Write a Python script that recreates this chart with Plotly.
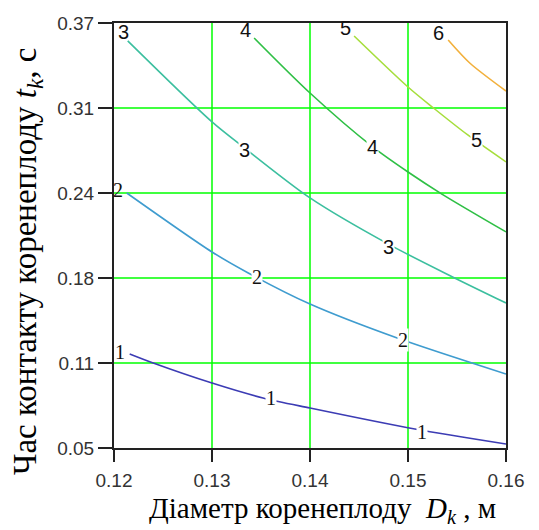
import plotly.graph_objects as go

# Contour levels, each as D (m) and t (s) points
levels = [1, 2, 3, 4, 5, 6]
level_colors = ["#3c3cb4", "#3f9ccf", "#3cbf9f", "#2fbf45", "#a6de3c", "#f2b03c"]

D1 = [0.1216, 0.1240, 0.1300, 0.1352, 0.1400, 0.1507, 0.1600]
t1 = [0.1208, 0.1140, 0.0989, 0.0877, 0.0801, 0.0643, 0.0530]
D2 = [0.1213, 0.1300, 0.1337, 0.1400, 0.1489, 0.1600]
t2 = [0.2420, 0.1976, 0.1818, 0.1584, 0.1328, 0.1057]
D3 = [0.1214, 0.1300, 0.1333, 0.1400, 0.1480, 0.1545, 0.1600]
t3 = [0.3565, 0.2955, 0.2760, 0.2383, 0.2035, 0.1790, 0.1592]
D4 = [0.1343, 0.1400, 0.1464, 0.1500, 0.1535, 0.1600]
t4 = [0.3587, 0.3173, 0.2767, 0.2578, 0.2410, 0.2127]
D5 = [0.1445, 0.1500, 0.1526, 0.1561, 0.1600]
t5 = [0.3602, 0.3218, 0.3060, 0.2857, 0.2654]
D6 = [0.1541, 0.1563, 0.1600]
t6 = [0.3572, 0.3399, 0.3188]

curves_D = [D1, D2, D3, D4, D5, D6]
curves_t = [t1, t2, t3, t4, t5, t6]

# Contour label positions
label_level = [1, 1, 1, 2, 2, 2, 3, 3, 3, 4, 4, 5, 5, 6]
label_D = [0.1206, 0.1360, 0.1514, 0.1204, 0.1346, 0.1495, 0.1210, 0.1333, 0.1480, 0.1334, 0.1464, 0.1436, 0.1570, 0.1531]
label_t = [0.1223, 0.0877, 0.0620, 0.2443, 0.1788, 0.1313, 0.3633, 0.2744, 0.2014, 0.3648, 0.2767, 0.3660, 0.2819, 0.3625]
label_mid = [False, True, True, False, True, True, False, True, True, False, True, False, True, False]

x_ticks = [0.12, 0.13, 0.14, 0.15, 0.16]
x_ticktext = ["0.12", "0.13", "0.14", "0.15", "0.16"]
y_ticks = [0.05, 0.114, 0.178, 0.242, 0.306, 0.37]
y_ticktext = ["0.05", "0.11", "0.18", "0.24", "0.31", "0.37"]

GRID = "#00ff00"
SERIF = "Liberation Serif"

fig = go.Figure()

# grid lines drawn at the tick values
for yv in y_ticks[1:-1]:
    fig.add_hline(y=yv, line=dict(color=GRID, width=1.5), layer="below")
for xv in x_ticks[1:-1]:
    fig.add_vline(x=xv, line=dict(color=GRID, width=1.5), layer="below")

for lvl, Dv, tv, c in zip(levels, curves_D, curves_t, level_colors):
    fig.add_trace(go.Scatter(x=Dv, y=tv, mode="lines",
                             line=dict(color=c, width=1.6, shape="spline", smoothing=0.8),
                             showlegend=False, hoverinfo="skip"))

for lvl, d, t, mid in zip(label_level, label_D, label_t, label_mid):
    fam = "Liberation Serif" if lvl <= 2 else "Liberation Sans"
    kw = dict(bgcolor="white") if mid else {}
    fig.add_annotation(x=d, y=t, text=str(lvl), showarrow=False, xref="x", yref="y",
                       font=dict(family=fam, size=20, color="#111"), borderpad=0, **kw)

axis_common = dict(showline=True, linecolor="#222", linewidth=2, mirror=True,
                   showgrid=False, zeroline=False,
                   ticks="outside", tickcolor="#222", tickwidth=2,
                   tickfont=dict(family="Liberation Sans", size=19, color="#333"))

fig.update_xaxes(range=[0.12, 0.16], tickvals=x_ticks, ticktext=x_ticktext, ticklen=12,
                 ticklabelstandoff=2, **axis_common)
fig.update_yaxes(range=[0.05, 0.37], tickvals=y_ticks, ticktext=y_ticktext, ticklen=14,
                 **axis_common)

fig.add_annotation(xref="paper", yref="paper", x=(322 - 114) / 392, y=(448 - 510) / 425,
                   xanchor="center", yanchor="middle", showarrow=False,
                   text="Діаметр коренеплоду  <i>D</i><sub><i>k</i></sub> , м",
                   font=dict(family=SERIF, size=29, color="#000"))
fig.add_annotation(xref="paper", yref="paper", x=(27 - 114) / 392, y=(448 - 262) / 425,
                   xanchor="center", yanchor="middle", showarrow=False, textangle=-90,
                   text="Час контакту коренеплоду <i>t</i><sub><i>k</i></sub>, с",
                   font=dict(family=SERIF, size=33, color="#000"))

fig.update_layout(width=539, height=530, margin=dict(l=114, r=33, t=23, b=82),
                  plot_bgcolor="white", paper_bgcolor="white")

fig.write_html("out.html")
